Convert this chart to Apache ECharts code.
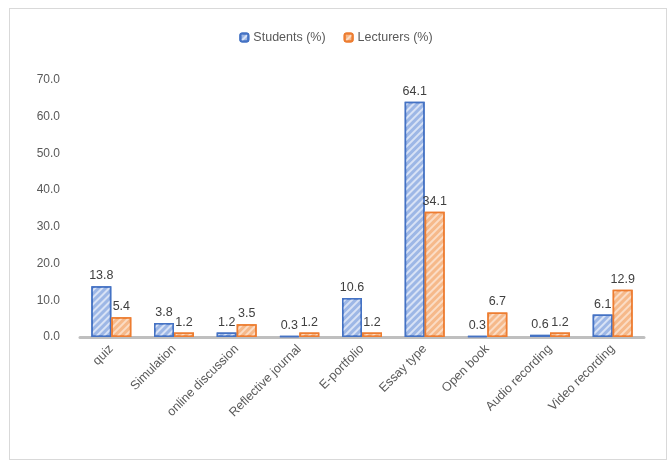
<!DOCTYPE html>
<html><head><meta charset="utf-8">
<script src="https://cdn.jsdelivr.net/npm/echarts@6/dist/echarts.min.js"></script>
<style>html,body{margin:0;padding:0;background:#fff}
#wrap{position:absolute;left:9px;top:8px;width:658px;height:452px;border:1px solid #d9d9d9;box-sizing:border-box}
#c{position:absolute;left:0;top:0;width:672px;height:467px}</style>
</head><body><div id="wrap"></div><div id="c"></div>
<script>
const categories = ['quiz','Simulation','online discussion','Reflective journal','E-portfolio','Essay type','Open book','Audio recording','Video recording'];
const students = [13.8,3.8,1.2,0.3,10.6,64.1,0.3,0.6,6.1];
const lecturers = [5.4,1.2,3.5,1.2,1.2,34.1,6.7,1.2,12.9];
const seriesNames = ['Students (%)','Lecturers (%)'];
const yTicks = {min:0, max:70, interval:10};

const chart = echarts.init(document.getElementById('c'), null, {renderer:'canvas'});
const lab = {show:true, position:'top', color:'#404040', fontSize:12.5, fontFamily:'Liberation Sans', formatter:p=>p.value.toFixed(1), distance:4};
chart.setOption({
  animation:false,
  textStyle:{fontFamily:'Liberation Sans'},
  legend:{top:26, left:'center', itemWidth:8, itemHeight:8, itemGap:18,
    textStyle:{color:'#595959', fontSize:12.5}, data:seriesNames},
  grid:{left:80, right:28, top:80, bottom:130},
  xAxis:{type:'category', data:categories,
    axisLine:{lineStyle:{color:'#bfbfbf', width:3}},
    axisTick:{show:false},
    axisLabel:{rotate:45, color:'#595959', fontSize:12.5, interval:0, margin:10}},
  yAxis:{type:'value', min:yTicks.min, max:yTicks.max, interval:yTicks.interval,
    axisLine:{show:false}, axisTick:{show:false}, splitLine:{show:false},
    axisLabel:{color:'#595959', fontSize:12, formatter:v=>v.toFixed(1), margin:20}},
  series:[
    {name:seriesNames[0], type:'bar', data:students, barWidth:20, barGap:'0%',
     itemStyle:{color:'#9db7e6', borderColor:'#4472c4', borderWidth:1.5,
       decal:{symbol:'rect', dashArrayX:[1,0], dashArrayY:[2,3], rotation:-Math.PI/4, color:'rgba(255,255,255,0.6)'}},
     label:lab},
    {name:seriesNames[1], type:'bar', data:lecturers, barWidth:20,
     itemStyle:{color:'#f6b98a', borderColor:'#ed7d31', borderWidth:1.5,
       decal:{symbol:'rect', dashArrayX:[1,0], dashArrayY:[2,3], rotation:-Math.PI/4, color:'rgba(255,255,255,0.5)'}},
     label:lab}
  ]
});
</script></body></html>
